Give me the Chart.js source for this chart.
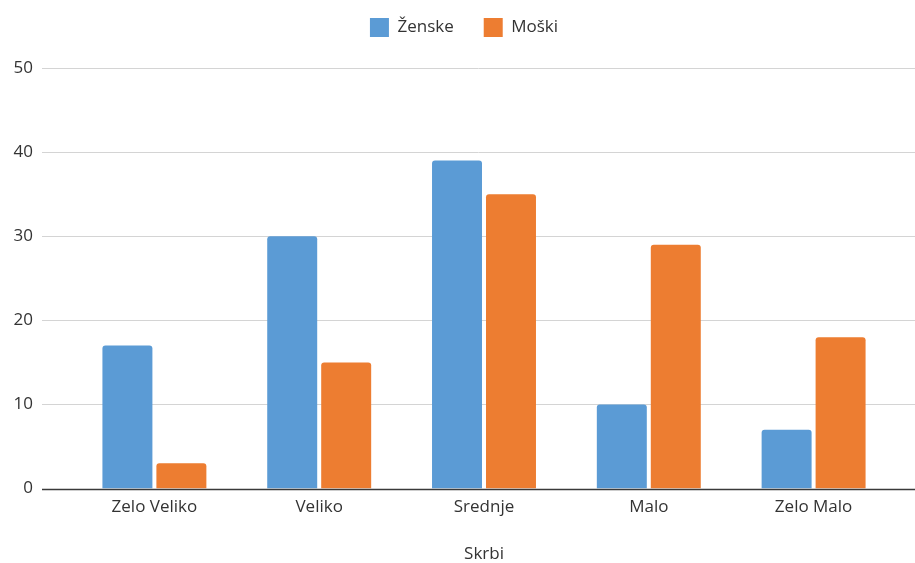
<!DOCTYPE html>
<html lang="sl">
<head>
<meta charset="utf-8">
<title>Skrbi</title>
<script src="https://cdn.jsdelivr.net/npm/chart.js@4/dist/chart.umd.min.js"></script>
<style>
  html, body { margin: 0; padding: 0; background: #fff; }
  #okvir { width: 915px; height: 563px; position: relative; }
</style>
</head>
<body>
<div id="okvir"><canvas id="grafSkrbi"></canvas></div>
<script>
// Podatki
const kategorije = ["Zelo Veliko", "Veliko", "Srednje", "Malo", "Zelo Malo"];
const zenske = [17, 30, 39, 10, 7];
const moski = [3, 15, 35, 29, 18];
const yOznake = [0, 10, 20, 30, 40, 50];

const barvaZenske = "#5b9bd5";
const barvaMoski = "#ed7d31";
const pisava = "'Open Sans', 'Liberation Sans', sans-serif";
const barvaBesedila = "#333";

// vodoravne crte mreze gredo cez celo sirino, ne samo cez obmocje grafa
const mreza = {
  id: "mreza",
  beforeDatasetsDraw(chart) {
    const { ctx, scales: { y }, width } = chart;
    ctx.save();
    ctx.strokeStyle = "#d4d4d4";
    ctx.lineWidth = 1;
    y.ticks.forEach(t => {
      if (t.value === 0) return;
      const py = Math.round(y.getPixelForValue(t.value)) + 0.5;
      ctx.beginPath();
      ctx.moveTo(42, py);
      ctx.lineTo(width, py);
      ctx.stroke();
    });
    ctx.restore();
  },
  afterDatasetsDraw(chart) {
    const { ctx, scales: { y }, width } = chart;
    const py = Math.round(y.getPixelForValue(0)) + 0.5;
    ctx.save();
    ctx.strokeStyle = "#3a3a3a";
    ctx.lineWidth = 1.3;
    ctx.beginPath();
    ctx.moveTo(42, py);
    ctx.lineTo(width, py);
    ctx.stroke();
    ctx.restore();
  }
};

// vec prostora pod legendo in legenda malo bolj desno
const legendaOdmik = {
  id: "legendaOdmik",
  beforeInit(chart) {
    const fit = chart.legend.fit;
    chart.legend.fit = function () {
      fit.call(this);
      this.height += 21;
    };
  },
  afterLayout(chart) {
    chart.legend.left += 16;
    chart.legend.right += 16;
  }
};

const podatki = {
  labels: kategorije,
  datasets: [
    {
      label: "Ženske",
      data: zenske,
      backgroundColor: barvaZenske,
      borderWidth: 0,
      borderRadius: { topLeft: 3, topRight: 3 },
      borderSkipped: "bottom"
    },
    {
      label: "Moški",
      data: moski,
      backgroundColor: barvaMoski,
      borderWidth: 0,
      borderRadius: { topLeft: 3, topRight: 3 },
      borderSkipped: "bottom"
    }
  ]
};

const config = {
  type: "bar",
  data: podatki,
  options: {
    responsive: true,
    maintainAspectRatio: false,
    animation: false,
    categoryPercentage: 0.655,
    barPercentage: 0.926,
    layout: { padding: { top: -12, right: 19, bottom: 0, left: 0 } },
    plugins: {
      legend: {
        position: "top",
        labels: {
          boxWidth: 19,
          boxHeight: 19,
          padding: 30,
          color: barvaBesedila,
          font: { family: pisava, size: 17 }
        }
      },
      tooltip: { enabled: false }
    },
    scales: {
      x: {
        grid: { display: false, drawTicks: false },
        border: { display: false },
        ticks: {
          color: barvaBesedila,
          padding: 8,
          font: { family: pisava, size: 17 }
        },
        title: {
          display: true,
          text: "Skrbi",
          color: barvaBesedila,
          padding: { top: 21, bottom: 0 },
          font: { family: pisava, size: 17, lineHeight: 1 }
        }
      },
      y: {
        min: yOznake[0],
        max: yOznake[yOznake.length - 1],
        grid: { display: false, drawTicks: false },
        border: { display: false },
        afterFit(s) { s.width = 72; },
        afterBuildTicks(s) { s.ticks = yOznake.map(v => ({ value: v })); },
        ticks: {
          color: barvaBesedila,
          padding: 39,
          font: { family: pisava, size: 17 }
        }
      }
    }
  },
  plugins: [mreza, legendaOdmik]
};

new Chart(document.querySelector("#grafSkrbi"), config);
</script>
</body>
</html>
